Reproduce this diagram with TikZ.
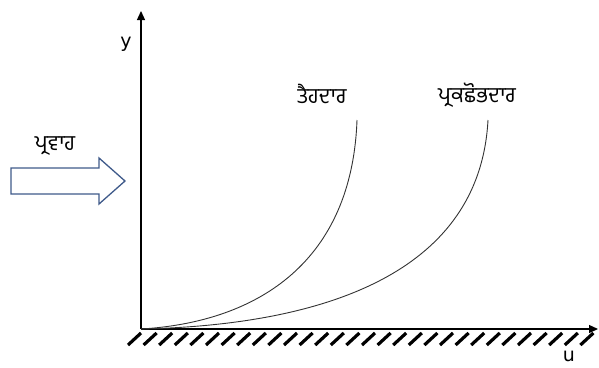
\documentclass[tikz,border=0pt]{standalone}
\usepackage{fontspec}
\setmainfont{DejaVu Sans}
\newfontfamily\gurmukhi[Script=Gurmukhi]{Hind Jalandhar}
\usetikzlibrary{arrows.meta}
\definecolor{arrowblue}{HTML}{3F5A8A}
\tikzset{
  axis/.style={line width=1.3pt,-{Triangle[length=9pt,width=8pt]}},
  profile/.style={line width=0.9pt, black!80},
  hatchline/.style={line width=3.2pt, line cap=butt},
  lbl/.style={font=\gurmukhi\fontsize{21.5}{24}\selectfont, inner sep=0pt},
  axlbl/.style={font=\fontsize{19}{22}\selectfont, inner sep=0pt}
}
\begin{document}
\begin{tikzpicture}[x=1pt,y=-1pt]
\useasboundingbox (0,0) rectangle (599,367);
\coordinate (O) at (141,329);
\coordinate (Ytop) at (141,11);
\coordinate (Xend) at (598,329);
% hatching
\foreach \i in {0,...,29} {
  \draw[hatchline] (128+15.6*\i,345) -- (141+15.6*\i,333);
}
\draw[axis] (O) -- (Ytop);
\draw[axis] (O) -- (Xend);
\node[axlbl] (ylab) at (126,44) {y};
\node[axlbl] (ulab) at (569,356) {u};
% profiles
\coordinate (Ltop) at (357,120);
\coordinate (Ttop) at (488,120);
\draw[profile] (O) .. controls (260,322) and (352,260) .. (Ltop);
\draw[profile] (O) .. controls (330,325) and (480,270) .. (Ttop);
\node[lbl] (lam) at (322,94) {ਤੈਹਦਾਰ};
\node[lbl] (turb) at (477,95) {ਪ੍ਰਕਛੋਭਦਾਰ};
\node[lbl] (flow) at (55,146) {ਪ੍ਰਵਾਹ};
% flow arrow
\draw[arrowblue, line width=1.3pt, fill=white, line join=miter]
  (11,168) -- (99,168) -- (99,158) -- (125,181) -- (99,204) -- (99,194) -- (11,194) -- cycle;
\end{tikzpicture}
\end{document}
